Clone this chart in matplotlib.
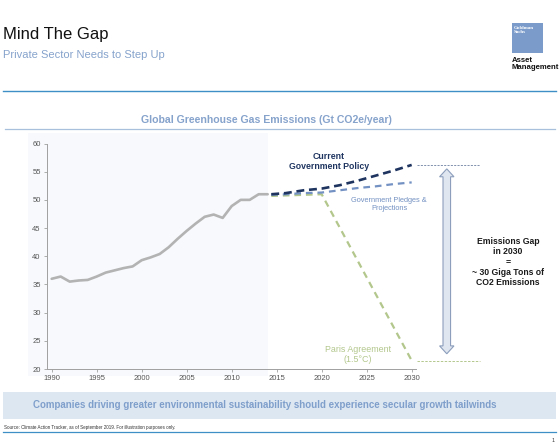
import matplotlib
matplotlib.use("Agg")
import matplotlib.pyplot as plt
from matplotlib.patches import Rectangle, Polygon
from matplotlib.lines import Line2D
import numpy as np

plt.rcParams['font.family'] = ['Liberation Sans', 'DejaVu Sans']

# ---------------- data ----------------
hist_years = list(range(1990, 2015))
hist_values = [36.0, 36.4, 35.5, 35.7, 35.8, 36.4, 37.1, 37.5, 37.9, 38.2,
               39.3, 39.8, 40.4, 41.6, 43.1, 44.5, 45.8, 47.0, 47.4, 46.8,
               48.9, 50.0, 50.0, 51.0, 51.0]

proj_years = [2014.4, 2016, 2018, 2020, 2022, 2024, 2026, 2028, 2030]
current_policy = [51.0, 51.2, 51.7, 52.0, 52.6, 53.4, 54.3, 55.2, 56.2]
pledges = [50.9, 51.0, 51.2, 51.3, 51.7, 52.1, 52.4, 52.8, 53.1]
paris_years = [2014.4, 2020, 2030]
paris = [50.7, 51.0, 21.5]

x_ticks = [1990, 1995, 2000, 2005, 2010, 2015, 2020, 2025, 2030]
y_ticks = [20, 25, 30, 35, 40, 45, 50, 55, 60]

title = "Mind The Gap"
subtitle = "Private Sector Needs to Step Up"
chart_title = "Global Greenhouse Gas Emissions (Gt CO2e/year)"
banner = "Companies driving greater environmental sustainability should experience secular growth tailwinds"
source = "Source: Climate Action Tracker, as of September 2019. For illustration purposes only."
gap_text = "Emissions Gap\nin 2030\n=\n~ 30 Giga Tons of\nCO2 Emissions"

# ---------------- figure ----------------
W, H = 560, 446
fig = plt.figure(figsize=(W / 100, H / 100), dpi=100)


def fx(x):
    return x / W


def fy(y):
    return 1 - y / H


BLUE_LINE = "#3d8fc6"
TITLE_BLUE = "#86a3cc"
NAVY = "#1f3560"
PLEDGE = "#7391c2"
PARIS = "#b3c78c"

# header
fig.text(fx(3), fy(35), title, fontsize=12, color="#111111", va="center", ha="left")
fig.text(fx(3), fy(55), subtitle, fontsize=8, color=TITLE_BLUE, va="center", ha="left")
fig.add_artist(Line2D([fx(3), fx(556)], [fy(91), fy(91)], color=BLUE_LINE, lw=1.0))

# logo
fig.add_artist(Rectangle((fx(512), fy(53)), fx(31), 30 / H, facecolor="#7b9ccb",
                         edgecolor="none"))
fig.text(fx(514), fy(26), "Goldman\nSachs", fontsize=3.6, color="white", va="top",
         ha="left", family="Liberation Serif", fontweight="bold", linespacing=0.9)
fig.text(fx(512), fy(57), "Asset\nManagement", fontsize=5.6, color="#111111",
         va="top", ha="left", fontweight="bold", linespacing=0.95)

# chart title
fig.text(fx(266), fy(120), chart_title, fontsize=7.6, color=TITLE_BLUE,
         fontweight="bold", va="center", ha="center")
fig.add_artist(Line2D([fx(5), fx(555)], [fy(129), fy(129)], color="#a9c0dc", lw=0.9))

# faint background of historic area
fig.add_artist(Rectangle((fx(28), fy(376)), fx(268 - 28), (376 - 133) / H,
                         facecolor="#f7f9fc", edgecolor="none", zorder=0))

# axes
ax = fig.add_axes([fx(47), fy(369), fx(416 - 47), (369 - 143.5) / H])
ax.set_facecolor("none")
ax.set_xlim(1989.48, 2030.48)
ax.set_ylim(20, 60)
for s in ["top", "right"]:
    ax.spines[s].set_visible(False)
for s in ["left", "bottom"]:
    ax.spines[s].set_color("#a0a0a0")
    ax.spines[s].set_linewidth(0.7)
ax.set_xticks(x_ticks)
ax.set_yticks(y_ticks)
ax.tick_params(axis="both", labelsize=5.5, labelcolor="#555555", color="#a0a0a0",
               length=2.5, width=0.6, pad=2)

ax.plot(hist_years, hist_values, color="#b3b3b3", lw=1.9, solid_capstyle="round", zorder=3)
ax.plot(paris_years, paris, color=PARIS, lw=1.6, dashes=(3, 2.2), zorder=4)
ax.plot(proj_years, pledges, color=PLEDGE, lw=1.6, dashes=(3, 2.2), zorder=5)
ax.plot(proj_years, current_policy, color=NAVY, lw=1.9, dashes=(3, 1.8), zorder=6)

# reference dashed lines beyond 2030
ax.plot([2030.6, 2037.6], [current_policy[-1], current_policy[-1]], color="#6c7fa0",
        lw=0.6, dashes=(2.5, 1.5), clip_on=False)
ax.plot([2030.6, 2037.6], [paris[-1], paris[-1]], color=PARIS,
        lw=0.7, dashes=(2.5, 1.5), clip_on=False)

# double arrow
ax_x = 2033.9
top = current_policy[-1] - 0.7
bot = paris[-1] + 1.2
hw_s, hw_h, hl = 0.42, 0.8, 1.4
pts = [(ax_x, top), (ax_x + hw_h, top - hl), (ax_x + hw_s, top - hl),
       (ax_x + hw_s, bot + hl), (ax_x + hw_h, bot + hl), (ax_x, bot),
       (ax_x - hw_h, bot + hl), (ax_x - hw_s, bot + hl), (ax_x - hw_s, top - hl),
       (ax_x - hw_h, top - hl)]
ax.add_patch(Polygon(pts, closed=True, facecolor="#dfe6f0", edgecolor="#8c9ebc",
                     lw=0.8, clip_on=False, zorder=2))

# annotations
ax.text(2020.8, 56.8, "Current\nGovernment Policy", fontsize=6.3, color=NAVY,
        fontweight="bold", ha="center", va="center", linespacing=1.15)
ax.text(2027.5, 49.2, "Government Pledges &\nProjections", fontsize=5.3,
        color=PLEDGE, ha="center", va="center", linespacing=1.1)
ax.text(2024.0, 22.6, "Paris Agreement\n(1.5°C)", fontsize=6.4, color=PARIS,
        ha="center", va="center", linespacing=1.1)

fig.text(fx(508), fy(262), gap_text, fontsize=6.2, color="#1a1a1a", fontweight="bold",
         ha="center", va="center", linespacing=1.15)

# bottom banner
fig.add_artist(Rectangle((fx(3), fy(419)), fx(553), 27 / H, facecolor="#dde7f2",
                         edgecolor="none"))
fig.text(fx(265), fy(405.5), banner, fontsize=7.05, color="#7f9fcb", fontweight="bold",
         ha="center", va="center")
fig.text(fx(4), fy(427), source, fontsize=3.25, color="#333333", ha="left", va="center")
fig.add_artist(Line2D([fx(3), fx(556)], [fy(432), fy(432)], color=BLUE_LINE, lw=0.9))
fig.text(fx(553), fy(441), "1", fontsize=3.8, color="#333333", ha="center", va="center")

fig.savefig("out.png", dpi=100)
